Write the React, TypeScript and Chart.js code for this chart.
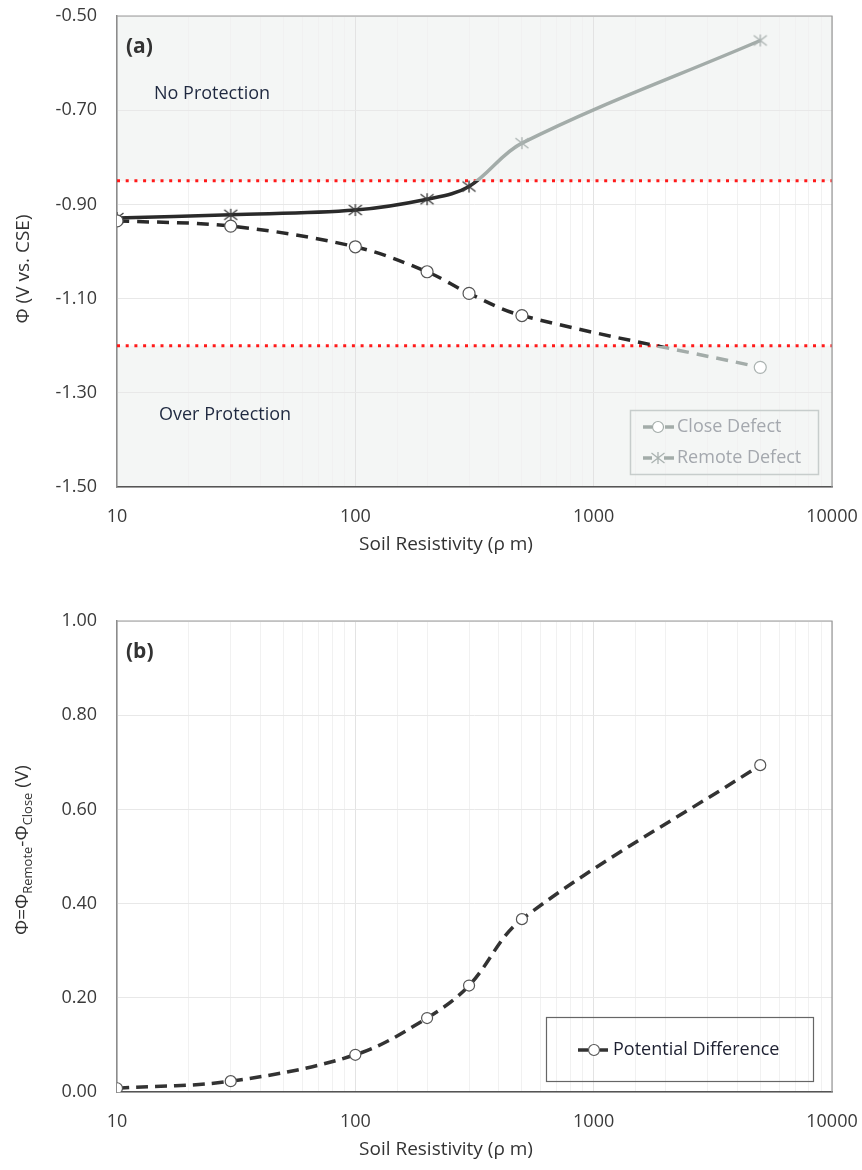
import React, { useEffect, useRef } from "react";
import { Chart, registerables } from "chart.js";

Chart.register(...registerables);

// ---------- data ----------
const resistivity = [10, 30, 100, 200, 300, 500, 5000];
const closeDefect = [-0.935, -0.946, -0.99, -1.043, -1.089, -1.136, -1.246];
const remoteDefect = [-0.929, -0.922, -0.912, -0.889, -0.862, -0.77, -0.552];
const potentialDifference = [0.008, 0.023, 0.079, 0.157, 0.226, 0.367, 0.694];
const thresholdX = [10, 10000];
const noProtectionLimit = -0.85;
const overProtectionLimit = -1.2;
const xTickValues = [10, 100, 1000, 10000];

const FONT = '"Open Sans", "Noto Sans", "DejaVu Sans", sans-serif';
const DARK = "#2a2a2a";
const GRAY = "#a3aca9";
const SHADE = "#f4f6f5";
const TEXT = "#1f2940";

const W = 862;
const HA = 575;
const HB = 580;
const OFFSET_B = 590;

function makeAsterisk(color: string) {
  const c = document.createElement("canvas");
  c.width = 16;
  c.height = 14;
  const g = c.getContext("2d")!;
  g.strokeStyle = color;
  g.lineWidth = 1.3;
  g.beginPath();
  g.moveTo(8, 1);
  g.lineTo(8, 13);
  g.moveTo(1.5, 2);
  g.lineTo(14.5, 12);
  g.moveTo(1.5, 12);
  g.lineTo(14.5, 2);
  g.stroke();
  return c;
}

function isDecade(v: number) {
  const l = Math.log10(v);
  return Math.abs(l - Math.round(l)) < 1e-9;
}

function zoneGradient(context: any) {
  const chart = context.chart;
  const a = chart.chartArea;
  const y = chart.scales && chart.scales.y;
  if (!a || !y) return DARK;
  const g = chart.ctx.createLinearGradient(0, a.top, 0, a.bottom);
  const h = a.bottom - a.top;
  const p1 = Math.min(1, Math.max(0, (y.getPixelForValue(noProtectionLimit) - a.top) / h));
  const p2 = Math.min(1, Math.max(0, (y.getPixelForValue(overProtectionLimit) - a.top) / h));
  g.addColorStop(0, GRAY);
  g.addColorStop(p1, GRAY);
  g.addColorStop(p1, DARK);
  g.addColorStop(p2, DARK);
  g.addColorStop(p2, GRAY);
  g.addColorStop(1, GRAY);
  return g;
}

function xScale(height: number) {
  return {
    type: "logarithmic" as const,
    min: 10,
    max: 10000,
    afterFit(s: any) {
      s.height = height;
      s.paddingLeft = 0;
      s.paddingRight = 0;
    },
    grid: {
      drawTicks: false,
      color: (ctx: any) =>
        ctx.tick && isDecade(ctx.tick.value) ? "#e3e3e3" : "#f1f1f1",
      lineWidth: 1,
    },
    border: { color: "#555", width: 1.5 },
    ticks: {
      autoSkip: false,
      maxRotation: 0,
      padding: 19,
      color: "#3a3a3a",
      font: { family: FONT, size: 18 },
      callback: (v: any) => {
        const n = Number(v);
        return xTickValues.some((t) => Math.abs(t - n) < 1e-6) ? String(n) : "";
      },
    },
  };
}

function yScale(min: number, max: number) {
  return {
    min,
    max,
    afterFit(s: any) {
      s.width = 117;
      s.paddingTop = 0;
      s.paddingBottom = 0;
    },
    grid: { drawTicks: false, color: "#e8e8e8" },
    border: { color: "#8c8c8c", width: 1.5 },
    ticks: {
      stepSize: 0.2,
      padding: 20,
      color: "#3a3a3a",
      font: { family: FONT, size: 18 },
      callback: (v: any) => Number(v).toFixed(2),
    },
  };
}

function drawFrame(chart: any) {
  const { ctx, chartArea: a } = chart;
  ctx.save();
  ctx.strokeStyle = "#999";
  ctx.lineWidth = 1.2;
  ctx.beginPath();
  ctx.moveTo(a.left, a.top);
  ctx.lineTo(a.right, a.top);
  ctx.lineTo(a.right, a.bottom);
  ctx.stroke();
  ctx.restore();
}

function text(ctx: CanvasRenderingContext2D, s: string, x: number, y: number, font: string, color: string, align: CanvasTextAlign = "left") {
  ctx.font = font;
  ctx.fillStyle = color;
  ctx.textAlign = align;
  ctx.textBaseline = "middle";
  ctx.fillText(s, x, y);
}

function seg(ctx: CanvasRenderingContext2D, x1: number, x2: number, y: number, color: string) {
  ctx.strokeStyle = color;
  ctx.lineWidth = 3.5;
  ctx.beginPath();
  ctx.moveTo(x1, y);
  ctx.lineTo(x2, y);
  ctx.stroke();
}

function circle(ctx: CanvasRenderingContext2D, x: number, y: number, color: string) {
  ctx.fillStyle = "#fff";
  ctx.strokeStyle = color;
  ctx.lineWidth = 1.2;
  ctx.beginPath();
  ctx.arc(x, y, 5.5, 0, Math.PI * 2);
  ctx.fill();
  ctx.stroke();
}

export default function App() {
  const refA = useRef<HTMLCanvasElement>(null);
  const refB = useRef<HTMLCanvasElement>(null);

  useEffect(() => {
    const starDark = makeAsterisk("#3a3a3a");
    const starGray = makeAsterisk("#aab2b0");

    const pluginA = {
      id: "overlayA",
      beforeDraw(chart: any) {
        const { ctx, chartArea: a, scales } = chart;
        const y1 = scales.y.getPixelForValue(noProtectionLimit);
        const y2 = scales.y.getPixelForValue(overProtectionLimit);
        ctx.save();
        ctx.fillStyle = SHADE;
        ctx.fillRect(a.left, a.top, a.right - a.left, y1 - a.top);
        ctx.fillRect(a.left, y2, a.right - a.left, a.bottom - y2);
        ctx.restore();
      },
      afterDraw(chart: any) {
        const ctx = chart.ctx as CanvasRenderingContext2D;
        drawFrame(chart);
        ctx.save();
        text(ctx, "(a)", 126, 47, `bold 21px ${FONT}`, "#333");
        text(ctx, "No Protection", 154, 94, `18px ${FONT}`, TEXT);
        text(ctx, "Over Protection", 159, 415, `18px ${FONT}`, TEXT);
        text(ctx, "Soil Resistivity (ρ m)", 446, 545, `19px ${FONT}`, "#333", "center");
        ctx.save();
        ctx.translate(24, 269);
        ctx.rotate(-Math.PI / 2);
        text(ctx, "Φ (V vs. CSE)", 0, 0, `19px ${FONT}`, "#333", "center");
        ctx.restore();
        // legend
        ctx.strokeStyle = "#c7cdcc";
        ctx.lineWidth = 1.5;
        ctx.strokeRect(630.5, 410.5, 188, 64);
        seg(ctx, 643, 652, 427, GRAY);
        seg(ctx, 665, 674, 427, GRAY);
        circle(ctx, 658, 427, GRAY);
        text(ctx, "Close Defect", 677, 427, `18px ${FONT}`, "#a4a8ae");
        seg(ctx, 643, 652, 458, GRAY);
        seg(ctx, 664, 674, 458, GRAY);
        ctx.drawImage(starGray, 658 - 8, 458 - 7);
        text(ctx, "Remote Defect", 677, 458, `18px ${FONT}`, "#a4a8ae");
        ctx.restore();
      },
    };

    const chartA = new Chart(refA.current!, {
      type: "line",
      data: {
        datasets: [
          {
            label: "Close Defect",
            data: resistivity.map((x, i) => ({ x, y: closeDefect[i] })),
            borderColor: zoneGradient as any,
            borderDash: [12, 8],
            borderWidth: 3.5,
            tension: 0.35,
            pointRadius: 6,
            pointBackgroundColor: "#fff",
            pointBorderColor: closeDefect.map((v) => (v < overProtectionLimit ? "#aab2b0" : "#555")),
            pointBorderWidth: 1.2,
            order: 1,
          },
          {
            label: "Remote Defect",
            data: resistivity.map((x, i) => ({ x, y: remoteDefect[i] })),
            borderColor: zoneGradient as any,
            borderWidth: 3.5,
            tension: 0.35,
            pointStyle: remoteDefect.map((v) => (v > noProtectionLimit ? starGray : starDark)) as any,
            pointRadius: 7,
            order: 2,
          },
          {
            label: "No protection limit",
            data: thresholdX.map((x) => ({ x, y: noProtectionLimit })),
            borderColor: "#ff1a1a",
            borderWidth: 3,
            borderDash: [3, 5.7],
            pointRadius: 0,
            order: 10,
          },
          {
            label: "Over protection limit",
            data: thresholdX.map((x) => ({ x, y: overProtectionLimit })),
            borderColor: "#ff1a1a",
            borderWidth: 3,
            borderDash: [3, 5.7],
            pointRadius: 0,
            order: 10,
          },
        ],
      },
      options: {
        animation: false,
        responsive: false,
        devicePixelRatio: 1,
        layout: { padding: { left: 0, top: 16, right: 30, bottom: 0 } },
        plugins: { legend: { display: false }, tooltip: { enabled: false } },
        scales: {
          x: xScale(HA - 487) as any,
          y: yScale(-1.5, -0.5) as any,
        },
      },
      plugins: [pluginA],
    });

    const pluginB = {
      id: "overlayB",
      afterDraw(chart: any) {
        const ctx = chart.ctx as CanvasRenderingContext2D;
        drawFrame(chart);
        ctx.save();
        text(ctx, "(b)", 126, 652 - OFFSET_B, `bold 21px ${FONT}`, "#333");
        text(ctx, "Soil Resistivity (ρ m)", 446, 1150 - OFFSET_B, `19px ${FONT}`, "#333", "center");
        // y title with subscripts
        ctx.save();
        ctx.translate(22, 850 - OFFSET_B);
        ctx.rotate(-Math.PI / 2);
        const main = `19px ${FONT}`;
        const sub = `13px ${FONT}`;
        const parts: [string, boolean][] = [
          ["Φ=Φ", false],
          ["Remote", true],
          ["-Φ", false],
          ["Close", true],
          [" (V)", false],
        ];
        let total = 0;
        for (const [s, isSub] of parts) {
          ctx.font = isSub ? sub : main;
          total += ctx.measureText(s).width;
        }
        let x = -total / 2;
        ctx.fillStyle = "#333";
        ctx.textAlign = "left";
        ctx.textBaseline = "alphabetic";
        for (const [s, isSub] of parts) {
          ctx.font = isSub ? sub : main;
          ctx.fillText(s, x, isSub ? 10 : 6);
          x += ctx.measureText(s).width;
        }
        ctx.restore();
        // legend
        ctx.strokeStyle = "#666";
        ctx.lineWidth = 1.2;
        ctx.strokeRect(546.5, 1017.5 - OFFSET_B, 267, 64);
        const ly = 1050 - OFFSET_B;
        seg(ctx, 578, 588, ly, "#333");
        seg(ctx, 600, 608, ly, "#333");
        circle(ctx, 594, ly, "#555");
        text(ctx, "Potential Difference", 613, ly, `18px ${FONT}`, "#1e2132");
        ctx.restore();
      },
    };

    const chartB = new Chart(refB.current!, {
      type: "line",
      data: {
        datasets: [
          {
            label: "Potential Difference",
            data: resistivity.map((x, i) => ({ x, y: potentialDifference[i] })),
            borderColor: "#333",
            borderDash: [12, 7],
            borderWidth: 3.5,
            tension: 0.35,
            pointRadius: 5.5,
            pointBackgroundColor: "#fff",
            pointBorderColor: "#555",
            pointBorderWidth: 1.2,
          },
        ],
      },
      options: {
        animation: false,
        responsive: false,
        devicePixelRatio: 1,
        layout: { padding: { left: 0, top: 621 - OFFSET_B, right: 30, bottom: 0 } },
        plugins: { legend: { display: false }, tooltip: { enabled: false } },
        scales: {
          x: xScale(HB - (1092 - OFFSET_B)) as any,
          y: yScale(0, 1) as any,
        },
      },
      plugins: [pluginB],
    });

    return () => {
      chartA.destroy();
      chartB.destroy();
    };
  }, []);

  return (
    <div style={{ position: "absolute", left: 0, top: 0, width: W, height: 1170, background: "#fff" }}>
      <canvas ref={refA} width={W} height={HA} style={{ position: "absolute", left: 0, top: 0, width: W, height: HA }} />
      <canvas ref={refB} width={W} height={HB} style={{ position: "absolute", left: 0, top: OFFSET_B, width: W, height: HB }} />
    </div>
  );
}
